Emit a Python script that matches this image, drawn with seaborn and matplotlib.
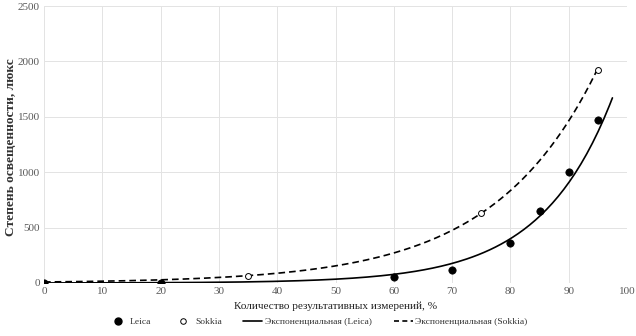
import numpy as np
import pandas as pd
import matplotlib
matplotlib.use("Agg")
import matplotlib.pyplot as plt
from matplotlib.lines import Line2D
import seaborn as sns

# Measured illuminance vs share of successful measurements
leica_x = [0, 20, 60, 70, 80, 85, 90, 95]
leica_y = [0, 0, 57, 120, 361, 650, 1000, 1470]
sokkia_x = [35, 75, 95]
sokkia_y = [60, 634, 1925]

# Exponential trend coefficients y = a * exp(b * x)
leica_trend = {"a": 0.58, "b": 0.0817, "x_end": 97.5}
sokkia_trend = {"a": 9.3, "b": 0.0562, "x_end": 95}

x_ticks = list(range(0, 101, 10))
y_ticks = list(range(0, 2501, 500))

sns.set_theme(style="whitegrid")
plt.rcParams["font.family"] = ["Liberation Serif", "DejaVu Serif"]

fig = plt.figure(figsize=(6.36, 3.36), dpi=100)
ax = fig.add_axes([44 / 636, 1 - 283 / 336, (627 - 44) / 636, (283 - 6) / 336])

pts = pd.concat([
    pd.DataFrame({"x": leica_x, "y": leica_y, "s": "Leica"}),
    pd.DataFrame({"x": sokkia_x, "y": sokkia_y, "s": "Sokkia"}),
])


def trend(p, label):
    xs = np.linspace(0, p["x_end"], 200)
    return pd.DataFrame({"x": xs, "y": p["a"] * np.exp(p["b"] * xs), "s": label})


lines = pd.concat([trend(leica_trend, "Экспоненциальная (Leica)"),
                   trend(sokkia_trend, "Экспоненциальная (Sokkia)")])

sns.lineplot(data=lines, x="x", y="y", hue="s", style="s",
             palette=["black", "black"], dashes=["", (4, 2.4)],
             linewidth=1.2, ax=ax, legend=False, zorder=2)

sns.scatterplot(data=pts[pts.s == "Leica"], x="x", y="y", color="black",
                s=28, edgecolor="black", linewidth=0.5, ax=ax, zorder=3, legend=False)
sns.scatterplot(data=pts[pts.s == "Sokkia"], x="x", y="y", facecolor="white",
                s=18, edgecolor="black", linewidth=0.7, ax=ax, zorder=3, legend=False)

ax.set_xlim(0, 100)
ax.set_ylim(0, 2500)
ax.set_xticks(x_ticks)
ax.set_yticks(y_ticks)
ax.grid(True, color="#e3e3e3", linewidth=0.7)
ax.set_axisbelow(True)
for sp in ax.spines.values():
    sp.set_visible(False)
ax.tick_params(axis="both", length=0, labelsize=8, colors="#595959", pad=3)
ax.set_xlabel("Количество результативных измерений, %", fontsize=8.1,
              color="#222222", labelpad=4)
ax.set_ylabel("Степень освещенности, люкс", fontsize=9.6, fontweight="bold",
              color="#333333", va="center")
ax.yaxis.set_label_coords(-0.057, 0.49)

handles = [
    Line2D([], [], marker="o", linestyle="none", color="black", markersize=5),
    Line2D([], [], marker="o", linestyle="none", markerfacecolor="white",
           markeredgecolor="black", markersize=4, markeredgewidth=0.7),
    Line2D([], [], color="black", linewidth=1.2),
    Line2D([], [], color="black", linewidth=1.2, dashes=(3, 2)),
]
labels = ["Leica", "Sokkia", "Экспоненциальная (Leica)", "Экспоненциальная (Sokkia)"]
fig.legend(handles, labels, loc="center", bbox_to_anchor=(0.5, 1 - 322 / 336),
           ncol=4, frameon=False, fontsize=6.8, handlelength=2.0, columnspacing=2.3,
           handletextpad=0.3, labelcolor="#333333")

fig.savefig("out.png", dpi=100)
